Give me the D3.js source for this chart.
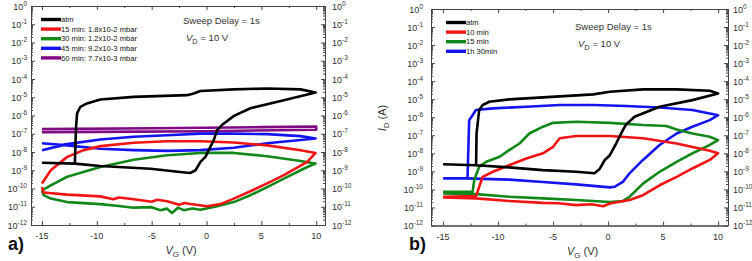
<!DOCTYPE html>
<html>
<head>
<meta charset="utf-8">
<script src="https://cdn.jsdelivr.net/npm/d3@7"></script>
<style>
  body { margin: 0; background: #fff; }
  svg { font-family: Arial, "Liberation Sans", sans-serif; }
</style>
</head>
<body>
<svg id="chart" width="752" height="261"></svg>
<script>
// tick values
const xMajor = [-15, -10, -5, 0, 5, 10];
const xMinor = [-12.5, -7.5, -2.5, 2.5, 7.5];
const yExp = [0, -1, -2, -3, -4, -5, -6, -7, -8, -9, -10, -11, -12];

// legends
const legendA = ["atm", "15 min: 1.8x10-2 mbar", "30 min: 1.2x10-2 mbar", "45 min: 9.2x10-3 mbar", "60 min: 7.7x10-3 mbar"];
const legendB = ["atm", "10 min", "15 min", "1h 30min"];
const colorsA = ["#000000", "#f01414", "#12881a", "#1414f0", "#800a84"];
const colorsB = ["#000000", "#f01414", "#12881a", "#1414f0"];

// panel a) [V_G (V), I_D (A)] read along each hysteresis loop
const atmA = [[-15, 2.6e-9], [-12, 2.3e-9], [-9.7, 1.7e-9], [-5.1, 1.2e-9], [-2.4, 8.1e-10], [-1.5, 7.1e-10],
  [-1.0, 1e-9], [-0.55, 2.9e-9], [-0.1, 5.4e-9], [0.2, 1.26e-8], [0.66, 4.5e-8], [0.97, 1.6e-7], [1.4, 3.0e-7],
  [2.5, 9.5e-7], [4.0, 2.5e-6], [7.05, 6.9e-6], [9.94, 1.8e-5], [8.57, 2.7e-5], [5.53, 3.0e-5], [2.48, 2.7e-5],
  [-0.56, 2.2e-5], [-1.17, 1.6e-5], [-1.77, 1.3e-5], [-6.64, 1.05e-5], [-9.68, 7.6e-6], [-10.9, 4.6e-6],
  [-11.5, 3.0e-6], [-11.8, 1.3e-6], [-11.9, 1.95e-7], [-12, 2.5e-9]];
const min15A = [[-15, 1.9e-10], [-14.2, 1e-9], [-12.7, 5.4e-9], [-11.2, 1.26e-8], [-9.68, 2.1e-8], [-6.64, 3.2e-8],
  [-3.6, 3.9e-8], [-0.56, 3.9e-8], [2.48, 3.3e-8], [5.53, 2.3e-8], [8.57, 1.26e-8], [9.94, 8.9e-9],
  [9.18, 2.9e-9], [7.05, 5.4e-10], [5.53, 1.9e-10], [4.0, 7.1e-11], [2.48, 2.8e-11], [1.27, 1.4e-11],
  [0.05, 1.07e-11], [-1.47, 1.4e-11], [-2.0, 1.6e-11], [-2.5, 1.3e-11], [-3.6, 2.0e-11], [-4.5, 2.4e-11],
  [-5.0, 1.9e-11], [-6.64, 2.6e-11], [-8.0, 3.2e-11], [-8.5, 2.6e-11], [-9.68, 3.7e-11], [-12.7, 4.6e-11],
  [-14.85, 6.0e-11], [-15, 1.2e-10]];
const min30A = [[-15, 7.9e-11], [-14.2, 1.5e-10], [-12.7, 4.4e-10], [-9.68, 1.5e-9], [-6.64, 3.8e-9], [-3.6, 6.6e-9],
  [-0.56, 8.9e-9], [2.48, 8.9e-9], [5.53, 5.9e-9], [8.57, 3.2e-9], [9.94, 2.3e-9], [9.18, 1.5e-9],
  [7.05, 3.5e-10], [5.53, 1.2e-10], [4.0, 4.3e-11], [2.48, 1.8e-11], [0.97, 1.07e-11], [-0.56, 6.9e-12],
  [-1.3, 8.0e-12], [-2.08, 6.5e-12], [-2.6, 8.9e-12], [-3.15, 4.6e-12], [-3.6, 7.9e-12], [-4.2, 6.5e-12],
  [-5.0, 9.5e-12], [-6.64, 8.9e-12], [-8.0, 1.1e-11], [-9.68, 1.4e-11], [-12.7, 1.8e-11], [-14.2, 2.8e-11],
  [-14.85, 4.3e-11], [-15, 7.9e-11]];
const min45A = [[-15, 3.0e-8], [-12.7, 2.3e-8], [-9.68, 1.5e-8], [-6.64, 1.26e-8], [-3.6, 1.15e-8], [-0.56, 1.26e-8],
  [2.48, 1.7e-8], [5.53, 3.0e-8], [8.57, 4.5e-8], [9.94, 5.5e-8], [8.57, 7.4e-8], [5.53, 9.5e-8],
  [2.48, 1.02e-7], [-0.56, 1.02e-7], [-3.6, 8.3e-8], [-6.64, 6.8e-8], [-9.68, 4.8e-8], [-12.7, 2.7e-8],
  [-15, 1.26e-8]];
const min60A = [[-15, 1.8e-7], [-5, 2.0e-7], [5, 2.3e-7], [10, 2.5e-7], [10, 1.66e-7], [0, 1.38e-7],
  [-10, 1.26e-7], [-15, 1.2e-7]];

// panel b)
const atmB = [[-15, 2.5e-9], [-12, 2.2e-9], [-9, 1.66e-9], [-5.94, 1.17e-9], [-2.91, 9.5e-10], [-1.24, 7.8e-10],
  [-0.79, 1.3e-9], [-0.3, 4.3e-9], [0.16, 7.9e-9], [0.73, 3.5e-8], [1.34, 1.95e-7], [1.6, 3.7e-7],
  [2.4, 1.07e-6], [4.68, 3.8e-6], [7.66, 8.9e-6], [10, 2.1e-5], [9.24, 2.95e-5], [6.23, 3.5e-5],
  [3.19, 3.5e-5], [0.16, 2.6e-5], [-1.36, 1.86e-5], [-5.91, 1.26e-5], [-9, 9.8e-6], [-10.8, 7.2e-6],
  [-11.4, 4.8e-6], [-11.72, 2.5e-6], [-11.96, 1.26e-7], [-12, 2.2e-9]];
const min10B = [[-15, 3.9e-11], [-12, 4.3e-11], [-11.87, 7.4e-11], [-11.41, 5.0e-10], [-10.47, 9.5e-10],
  [-9, 2.2e-9], [-7.44, 5.2e-9], [-5.92, 1e-8], [-5.0, 2.3e-8], [-4.4, 6.8e-8], [-2.91, 9.1e-8],
  [0.16, 9.1e-8], [3.17, 6.8e-8], [6.23, 3.5e-8], [9.24, 1.4e-8], [10, 1e-8], [9.24, 4.3e-9],
  [7.66, 1.45e-9], [6.23, 5.0e-10], [4.68, 1.7e-10], [3.17, 4.8e-11], [1.95, 2.6e-11], [0.16, 1.66e-11],
  [-0.45, 1.17e-11], [-1.5, 1.5e-11], [-2.91, 1.35e-11], [-4.5, 1.7e-11], [-5.92, 1.8e-11], [-9, 2.3e-11],
  [-12, 3.2e-11], [-15, 3.6e-11]];
const min15B = [[-15, 7.4e-11], [-12.32, 7.4e-11], [-12.17, 3.3e-10], [-11.72, 1.8e-9], [-11.08, 3.4e-9],
  [-9.86, 6.5e-9], [-9, 1.5e-8], [-8.05, 3.5e-8], [-7.16, 1.26e-7], [-5.92, 3.0e-7], [-5.0, 4.9e-7],
  [-2.91, 5.6e-7], [0.16, 4.9e-7], [3.19, 3.7e-7], [5.29, 3.3e-7], [6.23, 2.1e-7], [7.66, 1.26e-7],
  [9.24, 8.3e-8], [10, 5.4e-8], [9.24, 2.9e-8], [7.66, 1e-8], [6.23, 3.4e-9], [4.68, 9.5e-10],
  [3.17, 2.1e-10], [1.95, 3.9e-11], [1.34, 2.3e-11], [0.16, 2.0e-11], [-2.91, 2.6e-11], [-5.92, 3.2e-11],
  [-9, 3.9e-11], [-12, 5.5e-11], [-15, 6.0e-11]];
const h130B = [[-15, 4.1e-10], [-12.93, 4.1e-10], [-9, 3.5e-10], [-5.92, 2.6e-10], [-2.91, 1.9e-10],
  [0.16, 1.3e-10], [0.58, 1.4e-10], [1.34, 2.6e-10], [1.95, 7.8e-10], [3.17, 4.3e-9], [4.68, 2.9e-8],
  [6.23, 1.26e-7], [7.66, 3.0e-7], [9.24, 6.9e-7], [10, 1.3e-6], [9.24, 1.6e-6], [7.66, 2.5e-6],
  [4.68, 3.5e-6], [1.64, 4.2e-6], [-1.36, 4.8e-6], [-4.4, 4.8e-6], [-7.44, 3.8e-6], [-10.47, 3.1e-6],
  [-12.02, 2.5e-6], [-12.32, 1.3e-6], [-12.63, 6.9e-7], [-12.78, 4.1e-10]];

const svg = d3.select("#chart");

function supLabel(sel, exp) {
  sel.append("tspan").text("10");
  sel.append("tspan").attr("dy", -4).attr("font-size", "6.5px").text(exp);
}

function drawPanel(p) {
  let x = d3.scaleLinear().domain(p.xDomain).range([p.left, p.right]);
  let y = d3.scaleLog().domain([1e-12, 1]).range([p.bottom, p.top]);
  let g = svg.append("g");

  let yMaj = yExp.map(e => Math.pow(10, e));
  let yMin = [];
  yExp.slice(1).forEach(e => { for (let k = 2; k <= 9; k++) yMin.push(k * Math.pow(10, e)); });

  // curves
  g.append("clipPath").attr("id", "clip" + p.id)
    .append("rect").attr("x", p.left).attr("y", p.top)
    .attr("width", p.right - p.left).attr("height", p.bottom - p.top);
  let line = d3.line().x(d => x(d[0])).y(d => y(d[1]));
  let curves = g.append("g").attr("clip-path", "url(#clip" + p.id + ")");
  p.series.slice().reverse().forEach((s, i) => {
    curves.append("path")
      .datum(s)
      .attr("fill", "none")
      .attr("stroke", p.colors[p.series.length - 1 - i])
      .attr("stroke-width", 2.6)
      .attr("stroke-linejoin", "round")
      .attr("d", line);
  });

  // axes, ticks inward on all four sides
  let axes = [
    [d3.axisLeft(y), `translate(${p.left},0)`, yMaj, -4],
    [d3.axisLeft(y), `translate(${p.left},0)`, yMin, -2],
    [d3.axisRight(y), `translate(${p.right},0)`, yMaj, -4],
    [d3.axisRight(y), `translate(${p.right},0)`, yMin, -2],
    [d3.axisBottom(x), `translate(0,${p.bottom})`, xMajor, -4],
    [d3.axisBottom(x), `translate(0,${p.bottom})`, xMinor, -2],
    [d3.axisTop(x), `translate(0,${p.top})`, xMajor, -4],
    [d3.axisTop(x), `translate(0,${p.top})`, xMinor, -2]
  ];
  axes.forEach(a => {
    let ax = g.append("g").attr("transform", a[1])
      .call(a[0].tickValues(a[2]).tickSizeInner(a[3]).tickSizeOuter(0).tickFormat(""));
    ax.selectAll("path,line").attr("stroke", "#444").attr("stroke-width", 1);
  });

  // y tick labels
  yExp.forEach(e => {
    let t = g.append("text").attr("x", p.left - p.padL).attr("y", y(Math.pow(10, e)) + 3.5)
      .attr("text-anchor", "end").attr("font-size", "9px").attr("fill", "#333");
    supLabel(t, e);
    let r = g.append("text").attr("x", p.right + p.padR).attr("y", y(Math.pow(10, e)) + 3.5)
      .attr("font-size", "9px").attr("fill", "#333");
    supLabel(r, e);
  });

  // x tick labels
  xMajor.forEach(v => {
    g.append("text").attr("x", x(v)).attr("y", p.bottom + 14)
      .attr("text-anchor", "middle").attr("font-size", "9px").attr("fill", "#333")
      .text(v < 0 ? "-" + (-v) : v);
  });

  // x axis title
  let xt = g.append("text").attr("x", (x(-15) + x(10)) / 2 + 2).attr("y", p.bottom + 29)
    .attr("text-anchor", "middle").attr("font-size", "11px").attr("fill", "#333");
  xt.append("tspan").attr("font-style", "italic").text("V");
  xt.append("tspan").attr("dy", 3).attr("font-size", "8px").text("G");
  xt.append("tspan").attr("dy", -3).text(" (V)");

  // panel letter
  g.append("text").attr("x", p.letterX).attr("y", 250)
    .attr("font-size", "18px").attr("font-weight", "bold").attr("fill", "#111").text(p.letter);

  // annotations
  g.append("text").attr("x", p.noteX).attr("y", p.noteY)
    .attr("font-size", "9.5px").attr("fill", "#333").text("Sweep Delay = 1s");
  let vd = g.append("text").attr("x", p.noteX + 3).attr("y", p.noteY + 17)
    .attr("font-size", "9.5px").attr("fill", "#333");
  vd.append("tspan").attr("font-style", "italic").text("V");
  vd.append("tspan").attr("dy", 3).attr("font-size", "7.5px").text("D");
  vd.append("tspan").attr("dy", -3).text(" = 10 V");

  // legend
  p.legend.forEach((name, i) => {
    let ly = p.legY + i * 9.6;
    g.append("line").attr("x1", p.legX).attr("x2", p.legX + 20).attr("y1", ly).attr("y2", ly)
      .attr("stroke", p.colors[i]).attr("stroke-width", 3.4);
    g.append("text").attr("x", p.legX + 20).attr("y", ly + 2.7)
      .attr("font-size", "7.6px").attr("fill", "#111").text(name);
  });
}

drawPanel({
  id: "a", left: 31, right: 325, top: 6, bottom: 225, xDomain: [-16, 10.8],
  padL: 4, padR: 7, letter: "a)", letterX: 8, noteX: 183, noteY: 24,
  legX: 41, legY: 19.5, legend: legendA, colors: colorsA,
  series: [atmA, min15A, min30A, min45A, min60A]
});

drawPanel({
  id: "b", left: 431, right: 728, top: 9, bottom: 225.5, xDomain: [-16.1, 10.9],
  padL: 8, padR: 5, letter: "b)", letterX: 409, noteX: 575, noteY: 30,
  legX: 446, legY: 22.5, legend: legendB, colors: colorsB,
  series: [atmB, min10B, min15B, h130B]
});

// y axis title of panel b
let yt = svg.append("text").attr("transform", "translate(386,118) rotate(-90)")
  .attr("text-anchor", "middle").attr("font-size", "11px").attr("fill", "#333");
yt.append("tspan").attr("font-style", "italic").text("I");
yt.append("tspan").attr("dy", 3).attr("font-size", "8px").text("D");
yt.append("tspan").attr("dy", -3).text(" (A)");
</script>
</body>
</html>
